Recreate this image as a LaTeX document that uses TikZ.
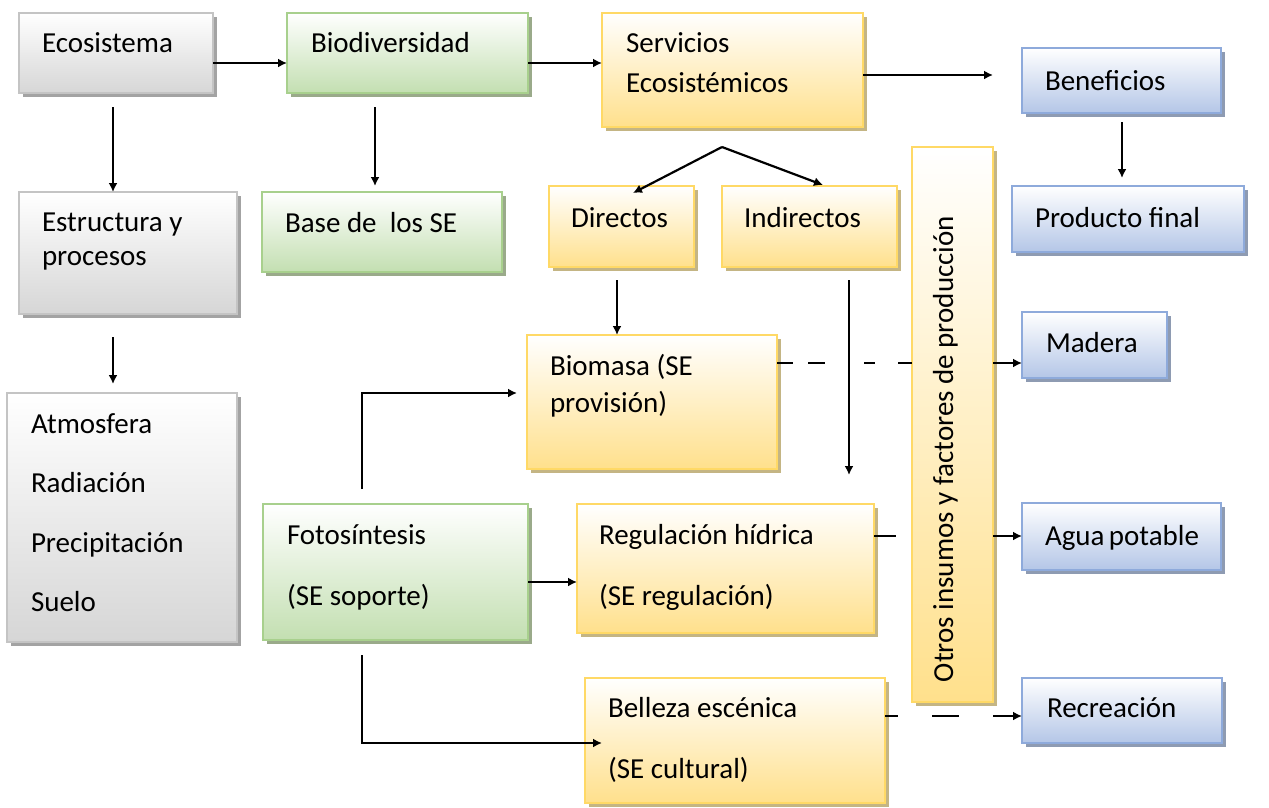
\documentclass[tikz,border=0pt]{standalone}
\usepackage{fontspec}
\setmainfont{Carlito}
\usetikzlibrary{arrows.meta,shadows}
\definecolor{grayB}{HTML}{D6D6D6}
\definecolor{grayL}{HTML}{C4C4C4}
\definecolor{grayS}{HTML}{A3A3A3}
\definecolor{grnB}{HTML}{C3DFB1}
\definecolor{grnL}{HTML}{A8D08D}
\definecolor{grnS}{HTML}{9AAA8A}
\definecolor{ylwB}{HTML}{FFE08C}
\definecolor{ylwL}{HTML}{FFD966}
\definecolor{ylwS}{HTML}{C4B584}
\definecolor{bluB}{HTML}{B4C6E7}
\definecolor{bluL}{HTML}{8EAADB}
\definecolor{bluS}{HTML}{8E9BB2}
\newcommand\boxfont{\fontsize{29}{35}\selectfont}
\tikzset{
  bx/.style={draw, line width=2pt, anchor=north west, outer sep=0pt, inner ysep=0pt,
    align=flush left, font=\boxfont},
  gbox/.style={bx, draw=grayL, top color=white, bottom color=grayB,
    drop shadow={shadow xshift=3.5pt, shadow yshift=-4pt, opacity=1, fill=grayS}},
  nbox/.style={bx, draw=grnL, top color=white, bottom color=grnB,
    drop shadow={shadow xshift=3.5pt, shadow yshift=-4pt, opacity=1, fill=grnS}},
  ybox/.style={bx, draw=ylwL, top color=white, bottom color=ylwB,
    drop shadow={shadow xshift=3.5pt, shadow yshift=-4pt, opacity=1, fill=ylwS}},
  bbox/.style={bx, draw=bluL, top color=white, bottom color=bluB,
    drop shadow={shadow xshift=3.5pt, shadow yshift=-4pt, opacity=1, fill=bluS}},
  dims/.style n args={4}{inner xsep=#1, text width=#2, text height=#3, text depth=#4},
  arr/.style={line width=2.2pt, -{Latex[length=9pt,width=9pt]}},
  ln/.style={line width=2.2pt},
}
\begin{document}
\begin{tikzpicture}[x=1pt,y=-1pt]
\useasboundingbox (0,0) rectangle (1269,807);

% top row
\node[gbox, dims={23pt}{148pt}{39pt}{41pt}] (eco) at (19,13) {Ecosistema};
\node[nbox, dims={24pt}{193pt}{39pt}{41pt}] (bio) at (287,13) {Biodiversidad};
\node[ybox, dims={24pt}{213pt}{39pt}{75pt}] (serv) at (602,13) {Servicios\\[5pt]Ecosistémicos};
\node[bbox, dims={23pt}{153pt}{42pt}{23pt}] (ben) at (1022,48) {Beneficios};

% second row
\node[gbox, dims={23pt}{172pt}{39pt}{83pt}] (estr) at (19,192) {Estructura~y\\[-1pt]procesos};
\node[nbox, dims={23pt}{194pt}{40pt}{40pt}] (base) at (262,192) {Base de\ \ los~SE};
\node[ybox, dims={22pt}{101pt}{41pt}{40pt}] (dir) at (549,186) {Directos};
\node[ybox, dims={22pt}{131pt}{41pt}{40pt}] (ind) at (722,186) {Indirectos};
\node[bbox, dims={23pt}{186pt}{41pt}{25pt}] (prod) at (1012,186) {Producto~final};

% vertical box
\node[ybox, dims={20pt}{41pt}{535pt}{20pt}] (otros) at (912,147)
  {\rotatebox{90}{\raisebox{0pt}[21pt][7pt]{Otros insumos y factores de producción}}};

% lower part
\node[bbox, dims={24pt}{97pt}{40pt}{26pt}] (mad) at (1022,312) {Madera};
\node[gbox, dims={24pt}{182pt}{40pt}{209pt}] (atm) at (7,393)
  {Atmosfera\\[24.5pt]Radiación\\[24.5pt]Precipitación\\[24.5pt]Suelo};
\node[ybox, dims={23pt}{204pt}{40pt}{94pt}] (biom) at (527,335) {Biomasa~(SE\\[2pt]provisión)};
\node[nbox, dims={24pt}{217pt}{40pt}{96pt}] (foto) at (263,504) {Fotosíntesis\\[26pt](SE~soporte)};
\node[ybox, dims={22pt}{253pt}{40pt}{89pt}] (reg) at (577,504) {Regulación~hídrica\\[26pt](SE~regulación)};
\node[bbox, dims={23pt}{153pt}{42pt}{25pt}] (agua) at (1022,503) {Agua~potable};
\node[ybox, dims={23pt}{254pt}{39pt}{86pt}] (bel) at (585,678) {Belleza~escénica\\[26pt](SE~cultural)};
\node[bbox, dims={25pt}{150pt}{39pt}{26pt}] (rec) at (1022,678) {Recreación};

% connectors
\draw[arr] (eco.east |- 0,63) -- (bio.west |- 0,63);
\draw[arr] (bio.east |- 0,63) -- (serv.west |- 0,63);
\coordinate (sEnd) at (993,75);
\draw[arr] (serv.east |- sEnd) -- (sEnd);

\draw[arr, shorten <=14pt] (eco.south -| 113,0) -- (estr.north -| 113,0);
\draw[arr, shorten <=23pt, shorten >=9pt] (estr.south -| 113,0) -- (atm.north -| 113,0);
\draw[arr, shorten <=14pt, shorten >=6pt] (bio.south -| 375,0) -- (base.north -| 375,0);

\path (serv.south -| 722,0) ++(0,20) coordinate (apex);
\draw[arr] (apex) -- ([yshift=-7pt]dir.north -| 633,0);
\draw[arr] (apex) -- ([yshift=1pt]ind.north -| 823,0);

\draw[arr, shorten <=9pt, shorten >=8pt] (ben.south -| 1122,0) -- (prod.north -| 1122,0);
\draw[arr, shorten <=13pt] (dir.south -| 617,0) -- (biom.north -| 617,0);
\coordinate (indEnd) at (849,475);
\draw[arr, shorten <=13pt] (ind.south -| indEnd) -- (indEnd);

\draw[ln, dash pattern=on 16pt off 15pt on 17pt off 39pt on 11pt off 23pt on 15pt off 20pt]
  (biom.east |- 0,363) -- (otros.west |- 0,363);
\draw[arr] (otros.east |- 0,363) -- (mad.west |- 0,363);

\draw[ln, shorten >=16pt] (reg.east |- 0,536) -- (otros.west |- 0,536);
\draw[arr] (otros.east |- 0,536) -- (agua.west |- 0,536);

\draw[ln, dash pattern=on 13pt off 34pt on 27pt off 100pt] (bel.east |- 0,716) -- (otros.east |- 0,716);
\draw[arr] (otros.east |- 0,716) -- (rec.west |- 0,716);

\draw[arr, shorten >=10pt] (foto.north -| 362,0) ++(0,-15) |- (biom.west |- 0,393);
\draw[arr] (foto.east |- 0,582) -- (reg.west |- 0,582);
\draw[arr] (foto.south -| 362,0) ++(0,15) |- ([xshift=17pt]bel.west |- 0,743);
\end{tikzpicture}
\end{document}
